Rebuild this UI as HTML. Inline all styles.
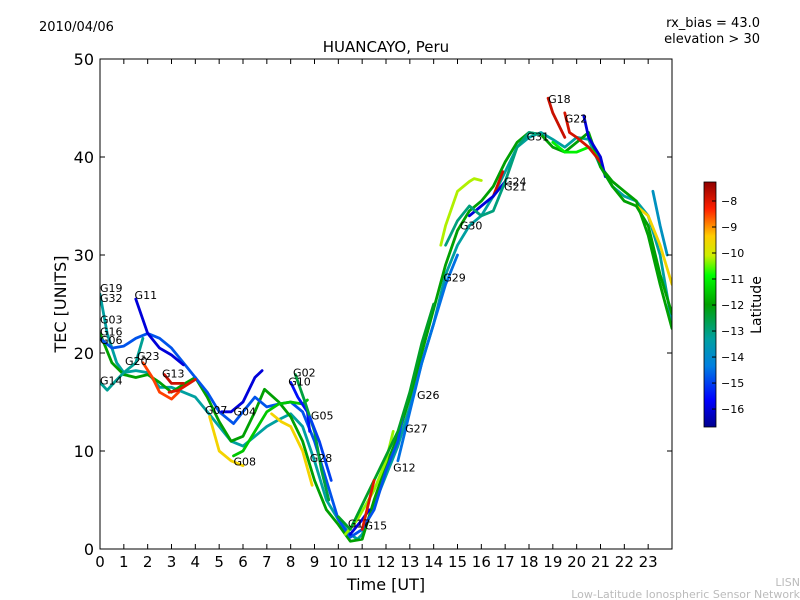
<!DOCTYPE html>
<html><head><meta charset="utf-8"><style>
body{margin:0;background:#fff;}
svg{display:block;font-family:"DejaVu Sans","Liberation Sans",sans-serif;}
</style></head><body>
<svg id="chart" width="800" height="600" viewBox="0 0 800 600" xmlns="http://www.w3.org/2000/svg">
<defs>
<linearGradient id="jet" x1="0" y1="1" x2="0" y2="0">
<stop offset="0" stop-color="#00008f"/><stop offset="0.11" stop-color="#0000ff"/>
<stop offset="0.25" stop-color="#0080e0"/>
<stop offset="0.36" stop-color="#00a0a0"/><stop offset="0.5" stop-color="#00a000"/>
<stop offset="0.62" stop-color="#00ff00"/><stop offset="0.7" stop-color="#ccee00"/>
<stop offset="0.78" stop-color="#ffcc00"/><stop offset="0.89" stop-color="#ff2000"/>
<stop offset="1" stop-color="#900000"/>
</linearGradient>
<clipPath id="plotclip"><rect x="100" y="59" width="572" height="490"/></clipPath>
</defs>
<text x="39" y="31" font-size="13">2010/04/06</text>
<text x="760" y="27" font-size="13" text-anchor="end">rx_bias = 43.0</text>
<text x="760" y="43" font-size="13" text-anchor="end">elevation &gt; 30</text>
<text x="386" y="52" font-size="15" text-anchor="middle">HUANCAYO, Peru</text>
<text transform="translate(66,304) rotate(-90)" font-size="16" text-anchor="middle">TEC [UNITS]</text>
<text x="386" y="590" font-size="16" text-anchor="middle">Time [UT]</text>
<g id="traces" clip-path="url(#plotclip)"></g>
<g id="labels" font-size="11"></g>
<rect x="100" y="59" width="572" height="490" fill="none" stroke="#000" stroke-width="1"/>
<g id="ticks"></g>
<rect x="704" y="182" width="12" height="245" fill="url(#jet)" stroke="#000" stroke-width="0.8"/>
<g id="cbticks" font-size="11"></g>
<text transform="translate(761,305) rotate(-90)" font-size="14" text-anchor="middle">Latitude</text>
<text x="800" y="586" font-size="11" fill="#bbb" text-anchor="end">LISN</text>
<text x="800" y="598" font-size="11" fill="#bbb" text-anchor="end">Low-Latitude Ionospheric Sensor Network</text>
</svg>
<script>
const xTicks=[0,1,2,3,4,5,6,7,8,9,10,11,12,13,14,15,16,17,18,19,20,21,22,23];
const yTicks=[0,10,20,30,40,50];
const cbTicks=[-8,-9,-10,-11,-12,-13,-14,-15,-16];
const latMin=-16.69, latMax=-7.27;
const satLats=[-13.3,-12,-14.8,-16,-8.5,-7.8,-9.5,-13.2,-11.5,-16,-9.5,-15.5,-12.5,-8,-15,-10.3,-12.3,-16,-8,-7.8,-16,-10.2,-13,-11,-13.8,-14.5];
const satData=[
[[0,26],[0.3,22],[0.7,19],[1,18],[1.5,18.2],[2,18],[2.5,16.5],[3,16.5],[3.5,16],[4,15.5],[4.5,14],[5,12.5],[5.5,11],[6,10.5],[6.5,11.5],[7,12.5],[7.5,13.2],[8,13.8],[8.5,12.5],[9,9],[9.5,5],[10,3],[10.5,1.5],[10.8,1],[11,1.5],[11.5,4.5],[12,7.5],[12.5,10.5],[13,14.5],[13.5,19],[14,23],[14.5,28],[15,31],[15.5,33],[16,34],[16.5,36],[17,38.5],[17.5,41],[18,42],[18.5,42.5],[19,41.8],[19.5,41],[20,42],[20.5,41.8],[21,39],[21.5,37],[22,36],[22.5,35.5],[23,34],[23.5,30],[24,23]],
[[0,22],[0.5,19],[1,17.8],[1.5,17.5],[2,17.8],[2.5,17],[3,16],[3.5,16.8],[4,17.5],[4.5,15.5],[5,13],[5.5,11],[6,11.5],[6.5,14],[6.9,16.3],[7.5,15],[8,13.5],[8.5,11],[9,7],[9.5,4],[10,2.5],[10.5,0.8],[11,1],[11.5,5],[12,8.5],[12.5,11.5],[13,15.5],[13.5,20],[14,24.5],[14.5,29],[15,32.5],[15.5,34.5],[16,35.5],[16.5,37],[17,39.5],[17.5,41.5],[18,42.5],[18.5,42.3],[19,41],[19.5,40.5],[20,41.5],[20.5,42.5],[21,39],[21.5,37.5],[22,36.5],[22.5,35.5],[23,32],[23.5,27],[24,22.5]],
[[0,21.5],[0.5,20.5],[1,20.7],[1.5,21.5],[2,22],[2.5,21.5],[3,20.5],[3.5,19],[4,17.5],[4.5,16],[5,14],[5.6,12.8],[6,14],[6.5,15.5],[7,14.5],[7.5,14.8],[8,15],[8.5,14],[9,11],[9.5,7],[10,3],[10.5,1.2],[11,2],[11.5,4],[12,8],[12.5,11],[12.7,13.5]],
[[1.5,25.5],[2,22],[2.5,20.5],[3,19.8],[3.5,18.8]],
[[1.8,19],[2.2,17.5],[2.5,16],[3,15.3],[3.3,16]],
[[2.7,17.8],[3,16.9],[3.5,16.9]],
[[4.6,13.5],[5,10],[5.5,9],[6,8.5]],
[[0,17],[0.3,16.2],[0.6,17],[1,18],[1.5,19],[1.8,21.5]],
[[5.6,9.5],[6,10],[6.5,12],[7,14],[7.5,14.8],[8,15],[8.5,14.8],[8.7,15.2]],
[[5.1,14],[5.5,14],[6,15],[6.5,17.5],[6.8,18.2]],
[[7.2,13.8],[7.6,13],[8,12.5],[8.5,10],[8.9,6.5]],
[[8,17],[8.3,15.5],[8.7,14],[8.8,12]],
[[8.2,17.8],[8.6,15],[9,12],[9.3,8],[9.6,5]],
[[2.9,16],[3.3,16.2],[4,17.3]],
[[8.8,13.5],[9.2,11],[9.7,7]],
[[10.3,1.5],[10.8,3],[11.5,6],[12,9],[12.3,12]],
[[10,3.3],[10.5,2],[11,4.5],[11.5,7],[12,9.5],[12.5,12],[13,16],[13.5,21],[14,25]],
[[10.5,1.5],[11,3],[11.3,4]],
[[11,2],[11.5,7]],
[[16.5,36],[16.9,38.5]],
[[15.5,34],[16,35],[16.5,36],[17,37.5]],
[[14.3,31],[14.5,33],[15,36.5],[15.5,37.5],[15.7,37.8],[16,37.6]],
[[14.5,31],[15,33.5],[15.5,35],[16,34],[16.5,34.5],[17,37.5],[17.5,41],[18,42.5],[18.5,42.3]],
[[19,41.5],[19.5,40.5],[20,40.5],[20.5,41],[21,39.8]],
[[23.2,36.5],[23.5,33],[23.8,30]],
[[12.5,9],[13,14],[13.5,19],[14,23],[14.5,27],[15,30]]
];
const satNames=["G19","G32","G06","G11","G23","G13","G07","G14","G08","G04","G28","G10","G02","G20","G05","G17","G12","G15","G15b","G24","G21","G29","G30","G18y","G23b","G27"];
const extraLats=[-7.8,-7.9,-16,-9.5,-12];
const extraData=[
[[18.8,46],[19,44.5],[19.3,43],[19.5,42]],
[[19.5,44.5],[19.7,42.5],[20,42],[20.5,41],[21,39.5]],
[[20.3,44.2],[20.5,42],[21,40],[21.2,38]],
[[22.5,35],[23,34],[23.5,31],[24,27]],
[[21,39],[21.5,37],[22,35.5],[22.5,35],[23,33],[23.5,28],[24,24]]
];
const labelNames=["G19","G32","G11","G03","G16","G06","G14","G20","G23","G13","G07","G04","G08","G02","G10","G05","G28","G17","G15","G12","G27","G26","G29","G30","G24","G21","G31","G18","G22"];
const labelTimes=[0,0,1.45,0,0,0,0,1.05,1.55,2.6,4.4,5.6,5.6,8.1,7.9,8.85,8.8,10.4,11.1,12.3,12.8,13.3,14.4,15.1,16.95,16.95,17.9,18.8,19.5];
const labelTec=[26.2,25.2,25.5,23,21.8,20.9,16.8,18.8,19.3,17.5,13.8,13.6,8.5,17.6,16.7,13.2,8.9,2.2,2,7.9,11.9,15.3,27.3,32.6,37.1,36.6,41.7,45.5,43.5];

const X0=100,X1=672,Y0=549,Y1=59;
const xs=t=>X0+(X1-X0)*t/24;
const ys=v=>Y0-(Y0-Y1)*v/50;
const cy=l=>182+245*(latMax-l)/(latMax-latMin);
const NS="http://www.w3.org/2000/svg";
const stops=[[0,[0,0,143]],[0.11,[0,0,255]],[0.25,[0,128,224]],[0.36,[0,160,160]],[0.5,[0,160,0]],[0.62,[0,255,0]],[0.7,[204,238,0]],[0.78,[255,204,0]],[0.89,[255,32,0]],[1,[144,0,0]]];
function jet(l){
  let v=(l-latMin)/(latMax-latMin);v=Math.max(0,Math.min(1,v));
  for(let i=1;i<stops.length;i++){
    if(v<=stops[i][0]){
      const a=stops[i-1],b=stops[i],f=(v-a[0])/(b[0]-a[0]);
      const c=a[1].map((x,k)=>Math.round(x+(b[1][k]-x)*f));
      return `rgb(${c[0]},${c[1]},${c[2]})`;
    }
  }
  return 'rgb(144,0,0)';
}
const tr=document.getElementById('traces');
function addTrace(pts,lat,name){
  const p=document.createElementNS(NS,'polyline');
  p.setAttribute('points',pts.map(d=>xs(d[0]).toFixed(1)+','+ys(d[1]).toFixed(1)).join(' '));
  p.setAttribute('fill','none');p.setAttribute('stroke',jet(lat));
  p.setAttribute('stroke-width','2.8');p.setAttribute('stroke-linejoin','round');p.setAttribute('stroke-linecap','round');
  
  
  tr.appendChild(p);
}
satData.forEach((d,i)=>addTrace(d,satLats[i],satNames[i]));
extraData.forEach((d,i)=>addTrace(d,extraLats[i],'extra-'+i));
const lg=document.getElementById('labels');
labelNames.forEach((n,i)=>{
  const t=document.createElementNS(NS,'text');
  t.setAttribute('x',xs(labelTimes[i]));t.setAttribute('y',ys(labelTec[i]));
  t.textContent=n;
  
  
  lg.appendChild(t);
});
const tk=document.getElementById('ticks');
function line(x1,y1,x2,y2){const l=document.createElementNS(NS,'line');l.setAttribute('x1',x1);l.setAttribute('y1',y1);l.setAttribute('x2',x2);l.setAttribute('y2',y2);l.setAttribute('stroke','#000');tk.appendChild(l);return l;}
xTicks.forEach(t=>{
  const x=xs(t);
  const a=line(x,Y0,x,Y0-5);
  
  
  line(x,Y1,x,Y1+5);
  const s=document.createElementNS(NS,'text');
  s.setAttribute('x',x);s.setAttribute('y',Y0+18);s.setAttribute('font-size','15');s.setAttribute('text-anchor','middle');
  s.textContent=t;
  
  
  tk.appendChild(s);
});
yTicks.forEach(v=>{
  const y=ys(v);
  const a=line(X0,y,X0+5,y);
  
  
  line(X1,y,X1-5,y);
  const s=document.createElementNS(NS,'text');
  s.setAttribute('x',X0-6);s.setAttribute('y',y+6);s.setAttribute('font-size','16');s.setAttribute('text-anchor','end');
  s.textContent=v;
  
  
  tk.appendChild(s);
});
const cg=document.getElementById('cbticks');
cbTicks.forEach(v=>{
  const y=cy(v);
  const l=document.createElementNS(NS,'line');
  l.setAttribute('x1',712);l.setAttribute('x2',716);l.setAttribute('y1',y);l.setAttribute('y2',y);l.setAttribute('stroke','#000');
  
  
  cg.appendChild(l);
  const s=document.createElementNS(NS,'text');
  s.setAttribute('x',721);s.setAttribute('y',y+4);
  s.textContent='\u2212'+Math.abs(v);
  
  
  cg.appendChild(s);
});
</script>
</body></html>
